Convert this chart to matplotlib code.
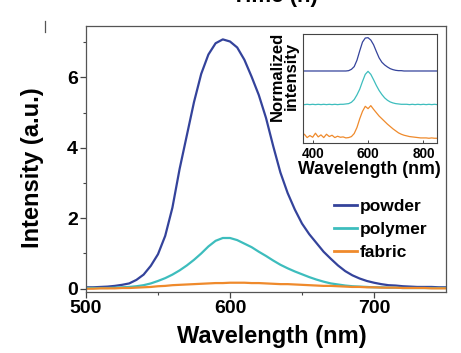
import matplotlib
matplotlib.use("Agg")
import matplotlib.pyplot as plt
from matplotlib.lines import Line2D

plt.rcParams['font.family'] = ['Liberation Sans', 'DejaVu Sans']
plt.rcParams['font.weight'] = 'bold'

# ---- main panel data (5 nm grid) ----
wavelength = [500, 505, 510, 515, 520, 525, 530, 535, 540, 545,
              550, 555, 560, 565, 570, 575, 580, 585, 590, 595,
              600, 605, 610, 615, 620, 625, 630, 635, 640, 645,
              650, 655, 660, 665, 670, 675, 680, 685, 690, 695,
              700, 705, 710, 715, 720, 725, 730, 735, 740, 745, 750]
powder = [0.04, 0.04, 0.05, 0.06, 0.08, 0.11, 0.15, 0.25, 0.40, 0.65,
          0.98, 1.50, 2.30, 3.40, 4.35, 5.30, 6.10, 6.65, 6.97, 7.08,
          7.02, 6.85, 6.50, 6.02, 5.50, 4.85, 4.05, 3.30, 2.72, 2.25,
          1.85, 1.55, 1.30, 1.05, 0.85, 0.66, 0.50, 0.38, 0.29, 0.22,
          0.17, 0.13, 0.10, 0.09, 0.07, 0.06, 0.05, 0.05, 0.05, 0.04, 0.04]
polymer = [0.02, 0.02, 0.02, 0.02, 0.03, 0.04, 0.05, 0.07, 0.10, 0.15,
           0.22, 0.30, 0.40, 0.52, 0.66, 0.82, 1.00, 1.20, 1.36, 1.44,
           1.44, 1.38, 1.28, 1.18, 1.05, 0.93, 0.80, 0.68, 0.58, 0.49,
           0.41, 0.33, 0.26, 0.20, 0.15, 0.12, 0.09, 0.07, 0.06, 0.05,
           0.04, 0.04, 0.03, 0.03, 0.02, 0.02, 0.02, 0.02, 0.02, 0.02, 0.02]
fabric = [0.00, 0.00, 0.01, 0.01, 0.01, 0.02, 0.02, 0.03, 0.04, 0.05,
          0.07, 0.08, 0.10, 0.11, 0.12, 0.13, 0.14, 0.15, 0.16, 0.16,
          0.17, 0.17, 0.17, 0.16, 0.16, 0.15, 0.14, 0.13, 0.13, 0.12,
          0.11, 0.10, 0.09, 0.08, 0.08, 0.07, 0.06, 0.05, 0.05, 0.04,
          0.04, 0.03, 0.03, 0.03, 0.02, 0.02, 0.02, 0.02, 0.01, 0.01, 0.01]

# ---- inset data (normalized, 10 nm grid) ----
inset_wl = [360, 370, 380, 390, 400, 410, 420, 430, 440, 450,
            460, 470, 480, 490, 500, 510, 520, 530, 540, 550,
            560, 570, 580, 590, 600, 610, 620, 630, 640, 650,
            660, 670, 680, 690, 700, 710, 720, 730, 740, 750,
            760, 770, 780, 790, 800, 810, 820, 830, 840, 850]
inset_powder = [0, 0, 0, 0, 0, 0, 0, 0, 0, 0,
                0, 0, 0, 0, 0, 0, 0, 0.01, 0.05, 0.13,
                0.32, 0.60, 0.86, 0.98, 0.99, 0.92, 0.78, 0.58, 0.39, 0.26,
                0.18, 0.12, 0.07, 0.04, 0.02, 0.01, 0.01, 0, 0, 0,
                0, 0, 0, 0, 0, 0, 0, 0, 0, 0]
inset_polymer = [0.01, 0, 0.01, 0, 0.01, 0, 0.01, 0, 0.01, 0,
                 0.01, 0, 0.01, 0, 0.01, 0.01, 0.02, 0.03, 0.07, 0.15,
                 0.29, 0.46, 0.69, 0.90, 0.99, 0.90, 0.74, 0.57, 0.42, 0.30,
                 0.20, 0.13, 0.08, 0.05, 0.03, 0.02, 0.01, 0.01, 0.01, 0,
                 0.01, 0, 0.01, 0, 0.01, 0, 0.01, 0, 0.01, 0]
inset_fabric = [0.05, 0.12, 0.02, 0.08, 0.03, 0.15, 0.04, 0.10, 0.02, 0.12,
                0.05, 0.09, 0.02, 0.06, 0.03, 0.04, 0.01, 0.02, 0.05, 0.14,
                0.32, 0.58, 0.80, 0.95, 0.88, 0.97, 0.86, 0.76, 0.66, 0.58,
                0.50, 0.42, 0.35, 0.28, 0.22, 0.16, 0.12, 0.09, 0.07, 0.05,
                0.04, 0.03, 0.02, 0.01, 0.01, 0.01, 0.00, 0.01, 0.00, 0.00]
inset_offsets = [2.0, 1.0, 0.0]

series_names = ["powder", "polymer", "fabric"]
colors = ["#34439b", "#3dbdbd", "#ef8a2c"]

xticks = [500, 600, 700]
yticks = [0, 2, 4, 6]
inset_xticks = [400, 600, 800]

fig = plt.figure(figsize=(4.61, 3.53), dpi=100)
ax = fig.add_axes([86/461, 1-291.7/353, 360/461, (291.7-26)/353])

for y, c, n in zip([powder, polymer, fabric], colors, series_names):
    ax.plot(wavelength, y, color=c, lw=1.6, label=n)

ax.set_xlim(500, 750)
ax.set_ylim(-0.085, 7.46)
ax.set_xticks(xticks)
ax.set_yticks(yticks)
ax.set_xticks([550, 650], minor=True)
ax.set_yticks([1, 3, 5, 7], minor=True)
ax.tick_params(which='major', direction='out', length=4, width=0.9, labelsize=14, pad=2, color='#444444')
ax.tick_params(which='minor', direction='out', length=2.5, width=0.8, color='#444444')
for s in ax.spines.values():
    s.set_color('#555555')
    s.set_linewidth(0.9)
for lab in ax.get_xticklabels() + ax.get_yticklabels():
    lab.set_fontweight('bold')
ax.set_xlabel("Wavelength (nm)", fontsize=17, fontweight='bold')
ax.xaxis.set_label_coords((271.7-86)/360, -(343-291.7)/265.7)
ax.xaxis.label.set_va('baseline')
ax.set_ylabel("Intensity (a.u.)", fontsize=17, fontweight='bold')
ax.yaxis.set_label_coords(-(86-44)/360, (291.7-168)/265.7)

leg = ax.legend(loc='upper left', bbox_to_anchor=(0.69, 0.35), frameon=False,
                fontsize=12.5, handlelength=1.3, handletextpad=0.15,
                labelspacing=0.45, borderaxespad=0, borderpad=0)
for t in leg.get_texts():
    t.set_fontweight('bold')
for h in leg.get_lines():
    h.set_linewidth(2.0)

# ---- inset ----
axi = fig.add_axes([302.7/461, 1-143.3/353, 134/461, (143.3-34)/353])
for y, c, off in zip([inset_powder, inset_polymer, inset_fabric], colors, inset_offsets):
    axi.plot(inset_wl, [v + off for v in y], color=c, lw=0.9)
axi.set_xlim(364, 848)
axi.set_ylim(-0.15, 3.1)
axi.set_xticks(inset_xticks)
axi.set_yticks([])
axi.tick_params(direction='in', length=2, width=0.7, labelsize=9.8, pad=3, color='#444444')
for lab in axi.get_xticklabels():
    lab.set_fontweight('bold')
for s in axi.spines.values():
    s.set_color('#444444')
    s.set_linewidth(0.8)
axi.set_xlabel("Wavelength (nm)", fontsize=12.8, fontweight='bold', labelpad=-0.5)
axi.set_ylabel("Normalized\nintensity", fontsize=12, fontweight='bold', linespacing=0.95)
axi.yaxis.set_label_coords(-(302.7-299)/134, (143.3-76)/109.3)

# cropped title at top edge and stray mark
fig.text(275/461, 1-2/353, "Time (h)", ha='center', va='baseline', fontsize=16, fontweight='bold')
fig.add_artist(Line2D([45/461, 45/461], [1-21/353, 1-32/353], color='#555555', lw=0.9))

fig.savefig("out.png", dpi=100)
